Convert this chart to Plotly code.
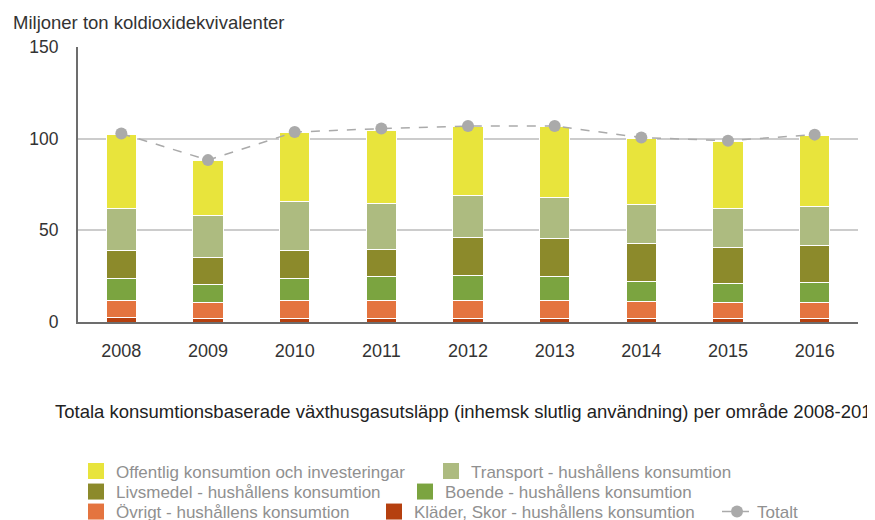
import plotly.graph_objects as go

# ── data (Mt CO2e) ───────────────────────────────────────────
YEARS = ["2008", "2009", "2010", "2011", "2012", "2013", "2014", "2015", "2016"]

KLADER    = [2.4, 2.0, 2.0, 2.0, 1.9, 1.9, 1.9, 1.9, 1.9]
OVRIGT    = [9.3, 8.7, 9.7, 9.7, 9.8, 9.8, 9.2, 8.8, 8.8]
BOENDE    = [12.0, 9.9, 12.0, 13.3, 13.5, 12.9, 11.1, 10.2, 10.6]
LIVSMEDEL = [15.4, 14.6, 15.4, 14.8, 21.1, 20.8, 20.6, 19.5, 20.4]
TRANSPORT = [22.9, 23.1, 26.6, 24.6, 22.8, 22.4, 21.1, 21.3, 21.4]
OFFENTLIG = [40.4, 29.7, 37.6, 40.2, 37.4, 38.7, 36.3, 37.0, 38.8]
TOTALT    = [102.8, 88.3, 103.6, 105.5, 106.9, 106.9, 100.6, 98.9, 102.2]

Y_TICKS = [0, 50, 100, 150]

# ── colours ──────────────────────────────────────────────────
C_OFFENTLIG = "#e8e43c"
C_TRANSPORT = "#adbb80"
C_LIVSMEDEL = "#8c8a2b"
C_BOENDE    = "#7ba440"
C_OVRIGT    = "#e4743f"
C_KLADER    = "#b5400f"
C_TOTALT    = "#aaaaaa"

AXIS_COLOR = "#6d6d6d"
GRID_COLOR = "#cccccc"
TEXT_COLOR = "#333333"
LEG_COLOR  = "#909090"
FONT = "Liberation Sans, Arial, sans-serif"

# page body has an 8px margin, so the figure is 8px smaller than the window
OFF = 8
W, H = 875 - OFF, 520 - OFF

# stacking order bottom -> top, with legend row, rank and entry width
SERIES = [
    ("Kläder, Skor - hushållens konsumtion", KLADER, C_KLADER, "legend3", 2, 298),
    ("Övrigt - hushållens konsumtion", OVRIGT, C_OVRIGT, "legend3", 1, 253),
    ("Boende - hushållens konsumtion", BOENDE, C_BOENDE, "legend2", 2, None),
    ("Livsmedel - hushållens konsumtion", LIVSMEDEL, C_LIVSMEDEL, "legend2", 1, 284),
    ("Transport - hushållens konsumtion", TRANSPORT, C_TRANSPORT, "legend", 2, None),
    ("Offentlig konsumtion och investeringar", OFFENTLIG, C_OFFENTLIG, "legend", 1, 310),
]

fig = go.Figure()

for name, vals, color, leg, rank, lw in SERIES:
    fig.add_trace(go.Bar(
        x=YEARS, y=vals, name=name,
        marker=dict(color=color, line=dict(color="white", width=1)),
        width=0.35, showlegend=False,
    ))

# legend swatches (bar legend symbols are too small)
for name, vals, color, leg, rank, lw in SERIES:
    fig.add_trace(go.Scatter(
        x=[None], y=[None], name=name, mode="markers",
        marker=dict(symbol="square", size=16, color=color),
        legend=leg, legendrank=rank, legendwidth=lw,
        hoverinfo="skip",
    ))

fig.add_trace(go.Scatter(
    x=YEARS, y=TOTALT, name="Totalt", mode="lines+markers",
    line=dict(color=C_TOTALT, width=1.5, dash="dash"),
    marker=dict(size=12, color=C_TOTALT),
    legend="legend3", legendrank=3,
))


def row_legend(y_px):
    return dict(
        orientation="h",
        xref="container", yref="container",
        x=(76 - OFF) / W, y=1 - (y_px - OFF) / H,
        xanchor="left", yanchor="middle",
        font=dict(family=FONT, size=17, color=LEG_COLOR),
        bgcolor="rgba(0,0,0,0)",
        traceorder="normal",
        itemclick=False, itemdoubleclick=False,
    )


fig.update_layout(
    width=W, height=H,
    barmode="stack",
    paper_bgcolor="white",
    plot_bgcolor="white",
    font=dict(family=FONT, color=TEXT_COLOR),
    margin=dict(l=78 - OFF, r=875 - 858, t=47 - OFF, b=520 - 322, autoexpand=False),
    legend=row_legend(471.5),
    legend2=row_legend(492),
    legend3=row_legend(512),
    xaxis=dict(
        type="category",
        categoryorder="array", categoryarray=YEARS,
        range=[-0.5, 8.5],
        showline=True, linecolor=AXIS_COLOR, linewidth=2,
        showgrid=False, ticks="",
        tickfont=dict(size=18, color=TEXT_COLOR),
        ticklabelstandoff=11,
    ),
    yaxis=dict(
        range=[0, 150],
        tickvals=Y_TICKS,
        showline=True, linecolor=AXIS_COLOR, linewidth=2,
        gridcolor=GRID_COLOR, gridwidth=2,
        zeroline=False, ticks="",
        tickfont=dict(size=17.5, color=TEXT_COLOR),
        ticklabelstandoff=14,
    ),
    annotations=[
        dict(
            text="Miljoner ton koldioxidekvivalenter",
            xref="paper", yref="paper",
            x=(11 - 78) / 780, y=(322 - 22) / 275,
            xanchor="left", yanchor="middle",
            showarrow=False,
            font=dict(size=18.5, color=TEXT_COLOR),
        ),
        dict(
            text="Totala konsumtionsbaserade växthusgasutsläpp (inhemsk slutlig användning) per område 2008-2016",
            xref="paper", yref="paper",
            x=(53 - 78) / 780, y=(322 - 412) / 275,
            xanchor="left", yanchor="middle",
            showarrow=False,
            font=dict(size=18.5, color="#222222"),
        ),
    ],
    showlegend=True,
)

fig.write_html("out.html")
